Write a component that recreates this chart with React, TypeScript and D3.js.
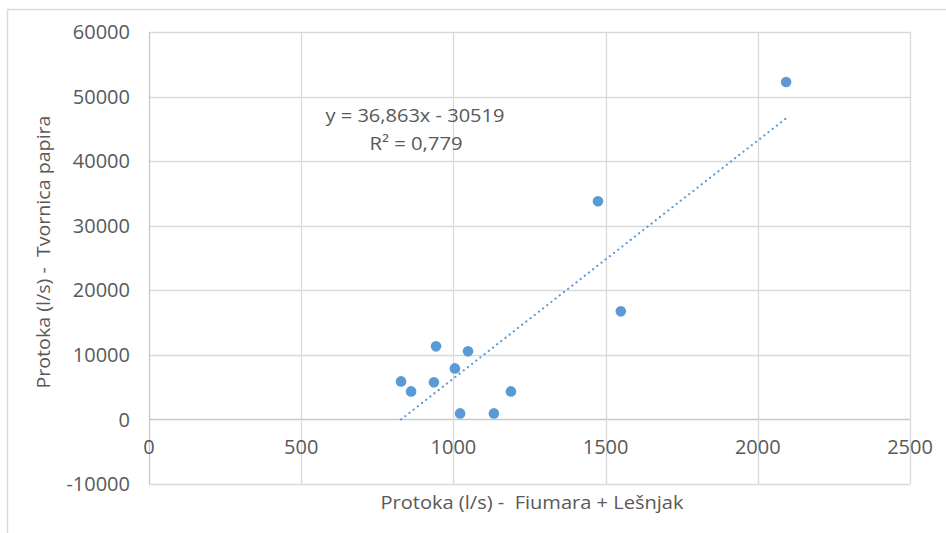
import React from "react";
import * as d3 from "d3";

const xValues = [828, 861, 936, 943, 1005, 1048, 1022, 1133, 1189, 1475, 1550, 2093];
const yValues = [5890, 4340, 5740, 11320, 7900, 10540, 930, 930, 4340, 33800, 16740, 52250];
const xTicks = [0, 500, 1000, 1500, 2000, 2500];
const yTicks = [-10000, 0, 10000, 20000, 30000, 40000, 50000, 60000];
const slope = 36.863;
const intercept = -30519;
const equationText = "y = 36,863x - 30519";
const r2Text = "R² = 0,779";
const xTitle = "Protoka (l/s) -  Fiumara + Lešnjak";
const yTitle = "Protoka (l/s) -  Tvornica papira";

const W = 946;
const H = 533;
const left = 149, right = 910, top = 32, bottom = 484;
const font = "'Open Sans', 'Noto Sans', sans-serif";
const blue = "#5b9bd5";
const grid = "#d9d9d9";
const textCol = "#595959";

export default function App() {
  const x = d3.scaleLinear().domain([0, 2500]).range([left, right]);
  const y = d3.scaleLinear().domain([-10000, 60000]).range([bottom, top]);
  const xMin = d3.min(xValues) as number;
  const xMax = d3.max(xValues) as number;
  const trend = d3.line<number>().x((d) => x(d)).y((d) => y(slope * d + intercept));
  return (
    <svg width={W} height={H} style={{ position: "absolute", left: 0, top: 0, background: "#fff" }}>
      <rect x={0} y={0} width={W} height={H} fill="#fff" />
      <path d={`M7.5,${H} V9.5 H${W}`} fill="none" stroke="#d9d9d9" strokeWidth={1.5} />
      {yTicks.map((t) => (
        <line key={"gy" + t} x1={left} x2={right} y1={Math.round(y(t)) + 0.5} y2={Math.round(y(t)) + 0.5} stroke={t === 0 ? "#c8c8c8" : grid} strokeWidth={1.3} />
      ))}
      {xTicks.map((t) => (
        <line key={"gx" + t} x1={Math.round(x(t)) + 0.5} x2={Math.round(x(t)) + 0.5} y1={top} y2={bottom} stroke={t === 0 ? "#c8c8c8" : grid} strokeWidth={1.3} />
      ))}
      {yTicks.map((t) => (
        <text key={"ty" + t} x={130} y={y(t)} dy="0.36em" textAnchor="end" fontFamily={font} fontSize={20} fill={textCol}>
          {t}
        </text>
      ))}
      {xTicks.map((t) => (
        <text key={"tx" + t} x={x(t)} y={y(0) + 27} dy="0.36em" textAnchor="middle" fontFamily={font} fontSize={20} fill={textCol}>
          {t}
        </text>
      ))}
      <path d={trend([xMin, xMax]) || ""} fill="none" stroke={blue} strokeWidth={2.2} strokeDasharray="0.1 5.2" strokeLinecap="round" />
      {xValues.map((v, i) => (
        <circle key={"p" + i} cx={x(v)} cy={y(yValues[i])} r={5.3} fill={blue} />
      ))}
      <text x={415} y={122} textAnchor="middle" fontFamily={font} fontSize={18} fill={textCol} textLength={179} lengthAdjust="spacingAndGlyphs">
        {equationText}
      </text>
      <text x={416} y={150} textAnchor="middle" fontFamily={font} fontSize={18} fill={textCol} textLength={93} lengthAdjust="spacingAndGlyphs">
        {r2Text}
      </text>
      <text x={532} y={509} textAnchor="middle" fontFamily={font} fontSize={18} fill={textCol} textLength={303} lengthAdjust="spacingAndGlyphs" style={{ whiteSpace: "pre" }}>
        {xTitle}
      </text>
      <text transform="translate(50,252) rotate(-90)" textAnchor="middle" fontFamily={font} fontSize={18} fill={textCol} textLength={273} lengthAdjust="spacingAndGlyphs" style={{ whiteSpace: "pre" }}>
        {yTitle}
      </text>
    </svg>
  );
}
